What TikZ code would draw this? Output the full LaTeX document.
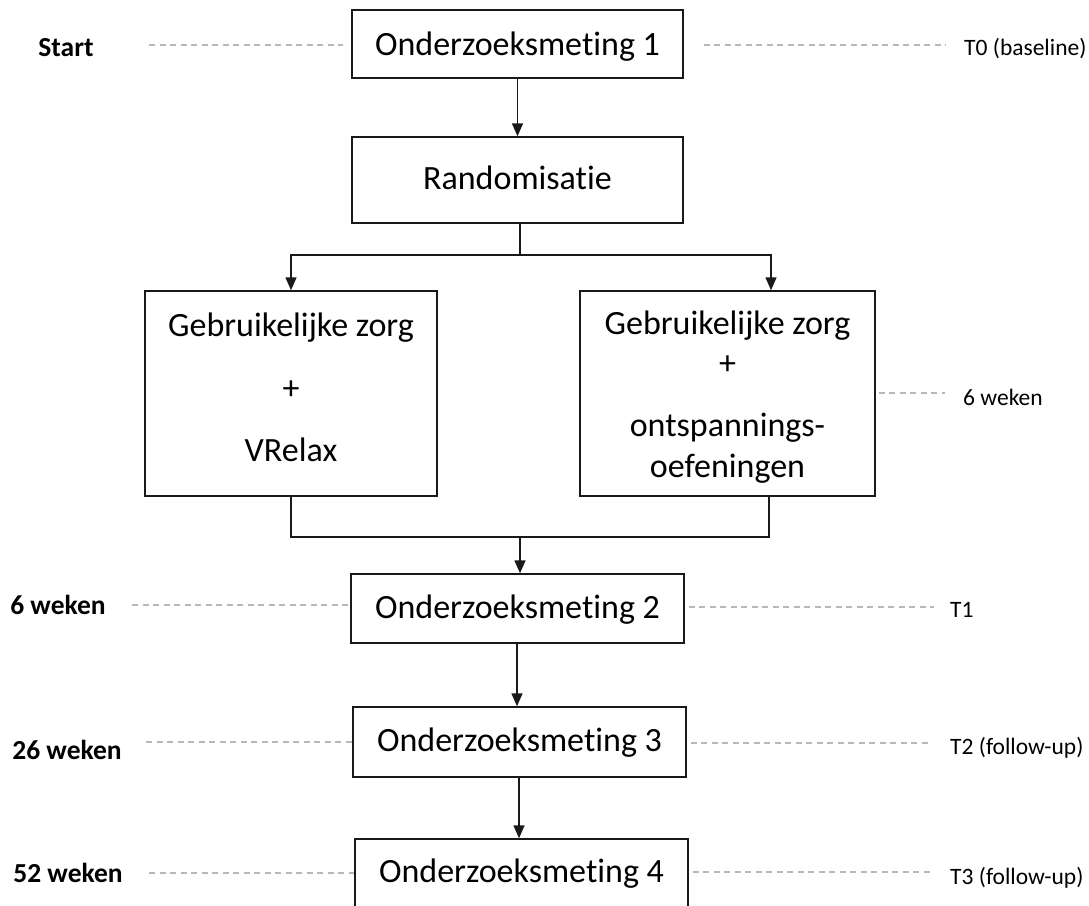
\documentclass[tikz,border=0pt]{standalone}
\usepackage{fontspec}
\setmainfont{Carlito}[Ligatures=NoCommon]
\usetikzlibrary{arrows.meta,calc}
\tikzset{
  box/.style={draw=black!90, line width=1.5pt, minimum width=#1, inner sep=0pt, align=center, font=\fontsize{34}{40}\selectfont},
  box/.default=331pt,
  boxtext/.style={inner sep=0pt, align=center, font=\fontsize{34}{40}\selectfont},
  flow/.style={line width=1.6pt, draw=black!90},
  arrowline/.style={flow, -{Triangle[length=13pt,width=11pt]}},
  dashline/.style={draw=black!28, line width=1.5pt, dash pattern=on 6pt off 4.5pt},
  leftlab/.style={font=\bfseries\fontsize{27.5}{32}\selectfont, inner sep=0pt},
  rightlab/.style={font=\fontsize{23.5}{28}\selectfont, inner sep=0pt, anchor=west},
}
\begin{document}
\begin{tikzpicture}[x=1pt,y=-1pt]
\useasboundingbox (0,0) rectangle (1089,905);
\clip (0,0) rectangle (1089,905);
\fill[white] (0,0) rectangle (1089,905);

% main boxes
\node[box, minimum height=68pt] (m1) at (517.5,44) {};
\node[boxtext] (m1text) at ($(m1.center)+(0,3)$) {Onderzoeksmeting 1};
\node[box, minimum height=86pt] (rand) at (517.5,180) {};
\node[boxtext] (randtext) at ($(rand.center)+(0,-2)$) {Randomisatie};
\node[box=292pt, minimum height=205pt] (left) at (291,393.5) {};
\node[boxtext] (lefttext) at ($(left.center)+(0,-6)$) {Gebruikelijke zorg\\[22.5pt]+\\[22.5pt]VRelax};
\node[box=295pt, minimum height=205pt] (right) at (727.5,393.5) {};
\node[boxtext] (righttext) at ($(right.center)+(0,4)$) {Gebruikelijke zorg\\[0pt]+\\[22pt]ontspannings-\\[1pt]oefeningen};
\node[box=333pt, minimum height=69pt] (m2) at (517.5,608.5) {};
\node[boxtext] (m2text) at ($(m2.center)+(0,1)$) {Onderzoeksmeting 2};
\node[box=333pt, minimum height=70pt] (m3) at (519.5,742) {};
\node[boxtext] (m3text) at ($(m3.center)+(0,1)$) {Onderzoeksmeting 3};
\node[box=333pt, minimum height=70pt] (m4) at (521.5,874) {};
\node[boxtext] (m4text) at ($(m4.center)+(0,0)$) {Onderzoeksmeting 4};

% flow connectors
\draw[arrowline] (m1) -- (rand);
\coordinate (split) at (520,255);
\draw[flow] (rand.south -| split) -- (split);
\draw[arrowline] (split) -| (left.north);
\draw[arrowline] (split) -| ([xshift=43.5pt]right.north);
\coordinate (merge) at (520,537);
\draw[flow] (left.south) |- (merge) -| ([xshift=41.5pt]right.south);
\draw[arrowline] (merge) -- (merge |- m2.north);
\draw[arrowline] (m2.south -| 517,0) -- (m3.north -| 517,0);
\draw[arrowline] (m3.south -| 519,0) -- (m4.north -| 519,0);

% left labels
\node[leftlab] (l0) at (66,48) {Start};
\node[leftlab] (l1) at (58,605) {6 weken};
\node[leftlab] (l2) at (67,750) {26 weken};
\node[leftlab] (l3) at (68,873) {52 weken};

% right labels
\node[rightlab] (r0) at (964,49) {T0 (baseline)};
\node[rightlab] (rw) at (963,397) {6 weken};
\node[rightlab] (r1) at (950,610) {T1};
\node[rightlab] (r2) at (950,748) {T2 (follow-up)};
\node[rightlab] (r3) at (950,878) {T3 (follow-up)};

% dashed guide lines (left)
\coordinate (dl0) at (149,45);
\coordinate (dl1) at (132,605);
\coordinate (dl2) at (146,742);
\coordinate (dl3) at (149,873);
\draw[dashline] (dl0) -- ([xshift=-8pt]dl0 -| m1.west);
\draw[dashline] (dl1) -- (dl1 -| m2.west);
\draw[dashline] (dl2) -- (dl2 -| m3.west);
\draw[dashline] (dl3) -- (dl3 -| m4.west);

% dashed guide lines (right)
\coordinate (dr0) at (946,45);
\coordinate (drw) at (945,393);
\coordinate (dr1) at (934,607);
\coordinate (dr2) at (930,743);
\coordinate (dr3) at (930,872);
\draw[dashline] ([xshift=20pt]dr0 -| m1.east) -- (dr0);
\draw[dashline] ([xshift=3pt]drw -| right.east) -- (drw);
\draw[dashline] ([xshift=4pt]dr1 -| m2.east) -- (dr1);
\draw[dashline] ([xshift=4pt]dr2 -| m3.east) -- (dr2);
\draw[dashline] ([xshift=4pt]dr3 -| m4.east) -- (dr3);
\end{tikzpicture}
\end{document}
